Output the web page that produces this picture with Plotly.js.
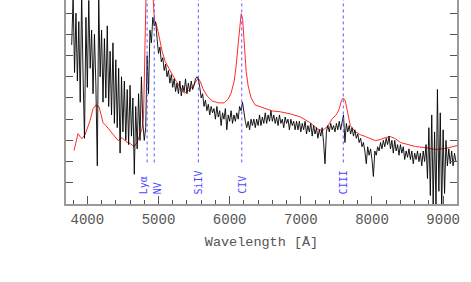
<!DOCTYPE html>
<html><head><meta charset="utf-8">
<script src="https://cdn.plot.ly/plotly-3.0.1.min.js"></script>
<style>html,body{margin:0;padding:0;background:#fff}#chart{width:471px;height:282px}</style>
</head><body><div id="chart"></div>
<script>
const obsStart = 3780, obsStep = 20;
const obsFlux = [
  /*3780*/ 7.5, 9.8, 6.2, 9.0, 5.8, 8.6, 4.8, 9.9, 6.0, 3.1,
  /*3980*/ 8.8, 5.5, 9.6, 6.4, 8.2, 5.2, 8.0, 5.6, 1.8, 9.8,
  /*4180*/ 6.0, 8.2, 4.8, 7.8, 5.0, 8.4, 4.6, 7.2, 4.2, 7.6,
  /*4380*/ 3.8, 6.8, 3.6, 6.4, 2.4, 6.0, 3.4, 5.8, 3.0, 5.4,
  /*4580*/ 2.8, 5.6, 3.2, 5.0, 1.4, 4.6, 2.6, 5.2, 3.0, 6.0,
  /*4780*/ 3.8, 3.0, 3.6, 7.0, 5.2, 8.2, 7.6, 8.8, 8.4, 8.6,
  /*4980*/ 7.8, 7.1, 7.4, 6.7, 6.9, 6.3, 6.6, 6.0, 6.3, 5.7,
  /*5180*/ 6.1, 5.5, 5.9, 5.3, 5.7, 5.2, 5.8, 5.1, 5.6, 5.3,
  /*5380*/ 5.9, 5.2, 5.7, 5.3, 5.8, 5.4, 5.6, 5.9, 6.0, 5.9,
  /*5580*/ 5.5, 5.0, 5.2, 4.6, 4.9, 4.4, 4.7, 4.2, 4.6, 4.3,
  /*5780*/ 4.5, 4.0, 4.6, 4.1, 4.4, 3.7, 4.3, 4.0, 4.5, 3.5,
  /*5980*/ 4.2, 3.9, 4.4, 3.8, 4.2, 3.9, 4.3, 4.0, 4.6, 4.4,
  /*6180*/ 4.8, 4.2, 3.9, 3.6, 3.9, 3.5, 4.0, 3.7, 4.0, 3.6,
  /*6380*/ 4.0, 3.7, 4.2, 3.7, 4.1, 3.8, 4.3, 3.8, 4.2, 3.9,
  /*6580*/ 4.4, 3.9, 4.2, 3.8, 4.1, 3.7, 4.2, 3.8, 4.0, 3.6,
  /*6780*/ 4.1, 3.8, 4.0, 3.5, 4.0, 3.7, 3.9, 3.5, 3.9, 3.5,
  /*6980*/ 3.9, 3.4, 3.8, 3.5, 3.9, 3.3, 3.7, 3.4, 3.8, 3.2,
  /*7180*/ 3.7, 3.3, 3.6, 3.1, 3.5, 3.2, 3.6, 2.9, 1.9, 3.4,
  /*7380*/ 3.7, 3.4, 3.8, 3.5, 3.7, 3.4, 3.8, 3.5, 3.9, 3.5,
  /*7580*/ 3.9, 4.2, 2.9, 3.8, 3.4, 3.7, 3.3, 3.6, 3.2, 3.5,
  /*7780*/ 3.1, 3.3, 2.9, 3.1, 2.7, 2.9, 2.5, 1.9, 2.7, 2.3,
  /*7980*/ 2.6, 2.1, 1.3, 2.5, 2.3, 2.7, 2.5, 2.9, 2.6, 3.0,
  /*8180*/ 2.7, 3.1, 2.8, 3.2, 2.6, 3.0, 2.4, 3.0, 2.5, 2.8,
  /*8380*/ 2.3, 2.8, 2.4, 2.7, 2.1, 2.5, 2.2, 2.6, 2.1, 2.5,
  /*8580*/ 1.9, 2.4, 2.1, 2.5, 2.0, 2.4, 1.8, 2.5, 2.0, 2.8,
  /*8780*/ 1.2, 3.6, 0.4, 4.2, 0.0, 3.4, -0.2, 5.4, 0.6, 4.3,
  /*8980*/ -0.3, 3.5, 0.5, 3.0, 1.8, 2.6, 1.9, 2.5, 1.8, 2.4,
  /*9180*/ 2.0
];
const obsWave = obsFlux.map((_, i) => obsStart + i * obsStep);

// quasar template (red)
const tplWave = [3813, 3869, 3897, 3925, 3968, 4010, 4038, 4080, 4122, 4165, 4193, 4221, 4263, 4319, 4376,
  4432, 4488, 4544, 4601, 4657, 4699, 4741, 4769, 4790, 4805, 4825, 4850, 4890, 4915, 4945, 4966, 4994,
  5022, 5051, 5093, 5135, 5191, 5248, 5304, 5360, 5416, 5473, 5529, 5557, 5585, 5627, 5684, 5754, 5838,
  5923, 5979, 6021, 6063, 6091, 6120, 6141, 6162, 6183, 6204, 6232, 6260, 6302, 6359, 6429, 6513, 6598,
  6710, 6851, 6992, 7132, 7231, 7302, 7372, 7442, 7499, 7541, 7569, 7597, 7625, 7653, 7696, 7766, 7836,
  7907, 7977, 8047, 8118, 8188, 8258, 8329, 8399, 8498, 8610, 8751, 8892, 9033, 9131, 9201];
const tplFlux = [2.52, 3.32, 3.18, 3.08, 3.27, 3.64, 3.93, 4.49, 4.67, 4.58, 4.16, 3.83, 3.69, 3.46, 3.18,
  2.99, 3.13, 2.94, 2.85, 2.71, 2.90, 3.32, 3.55, 4.16, 6.73, 11.0, 14.0, 12.5, 10.2, 8.6, 8.5, 8.13,
  7.66, 7.20, 6.73, 6.45, 6.12, 5.79, 5.51, 5.23, 5.33, 5.51, 5.79, 5.93, 5.79, 5.42, 5.09, 4.86, 4.77,
  4.77, 4.95, 5.23, 5.79, 6.50, 7.57, 8.50, 8.97, 8.69, 7.43, 6.26, 5.56, 5.00, 4.67, 4.58, 4.49, 4.39,
  4.35, 4.25, 4.11, 3.83, 3.55, 3.46, 3.64, 4.02, 4.21, 4.49, 4.86, 5.00, 4.86, 4.39, 3.69, 3.41, 3.27,
  3.18, 3.08, 2.99, 3.04, 3.13, 3.18, 3.08, 2.90, 2.80, 2.71, 2.66, 2.57, 2.62, 2.71, 2.76];

// emission lines (observed wavelengths)
const lineNames = ['Lyα', 'NV', 'SiIV', 'CIV', 'CIII'];
const lineWave = [4840, 4940, 5560, 6170, 7597];
const labelShift = [-4, 3, 0, 0, 0];

const xTickVals = [4000, 5000, 6000, 7000, 8000, 9000];
const xTickText = ['4000', '5000', '6000', '7000', '8000', '9000'];

const Y_TOP = 9.62;
const traces = [
  {x: tplWave, y: tplFlux, type: 'scatter', mode: 'lines', line: {color: '#ff2a2a', width: 1}, hoverinfo: 'skip'},
  {x: obsWave, y: obsFlux, type: 'scatter', mode: 'lines', line: {color: '#000000', width: 0.9}, hoverinfo: 'skip'}
];
const shapes = lineWave.map(w => ({type: 'line', xref: 'x', yref: 'y', x0: w, x1: w, y0: 1.96, y1: Y_TOP,
  line: {color: '#5a5aff', width: 1, dash: 'dot'}}));
const annotations = lineWave.map((w, i) => ({x: w, y: 0.42, xref: 'x', yref: 'y', text: lineNames[i],
  showarrow: false, textangle: -90, xanchor: 'center', yanchor: 'bottom', xshift: labelShift[i], borderpad: 0,
  font: {family: 'DejaVu Sans Mono', size: 10, color: '#4a4aff'}}));

const axisGray = '#9a9a9a';
const layout = {
  width: 471, height: 282,
  margin: {l: 66, r: 14, t: 0, b: 78},
  paper_bgcolor: '#fff', plot_bgcolor: '#fff',
  showlegend: false,
  xaxis: {
    range: [3700, 9195], showgrid: false, zeroline: false,
    showline: true, linecolor: axisGray, linewidth: 2, mirror: false,
    ticks: 'inside', ticklen: 8, tickcolor: '#555', tickwidth: 1,
    tickvals: xTickVals, ticktext: xTickText,
    minor: {dtick: 200, tick0: 0, ticks: 'inside', ticklen: 4, tickcolor: '#555', tickwidth: 1, showgrid: false},
    tickfont: {family: 'Liberation Mono', size: 14, color: '#555'},
    ticklabelstandoff: 1,
    title: {text: 'Wavelength [Å]', font: {family: 'Liberation Mono', size: 13.5, color: '#555'}, standoff: 10}
  },
  yaxis: {
    range: [0, Y_TOP], showgrid: false, zeroline: false,
    showline: true, linecolor: axisGray, linewidth: 2, mirror: 'allticks',
    ticks: 'inside', ticklen: 7, tickcolor: '#555', tickwidth: 1, dtick: 1, tick0: 0,
    showticklabels: false
  },
  shapes: shapes,
  annotations: annotations
};
Plotly.newPlot('chart', traces, layout, {staticPlot: true, displayModeBar: false});
</script></body></html>
